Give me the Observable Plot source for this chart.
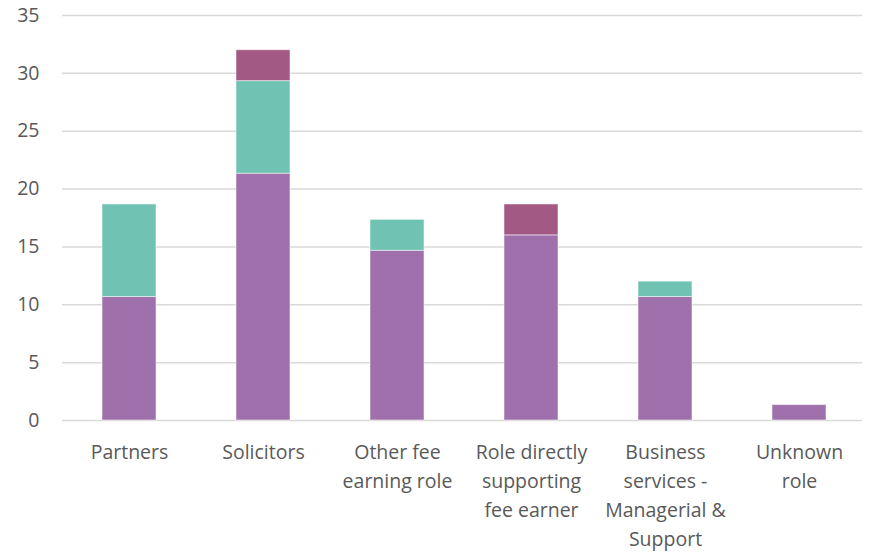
<!DOCTYPE html>
<html>
<head>
<meta charset="utf-8">
<script src="https://cdn.jsdelivr.net/npm/d3@7"></script>
<script src="https://cdn.jsdelivr.net/npm/@observablehq/plot@0.6"></script>
<style>
  html, body { margin: 0; padding: 0; background: #fff; }
  #chart { width: 870px; height: 552px; }
</style>
</head>
<body>
<div id="chart"></div>
<script>
const categories = [
  "Partners",
  "Solicitors",
  "Other fee earning role",
  "Role directly supporting fee earner",
  "Business services - Managerial & Support",
  "Unknown role"
];
const tickLabels = [
  "Partners",
  "Solicitors",
  "Other fee\nearning role",
  "Role directly\nsupporting\nfee earner",
  "Business\nservices -\nManagerial &\nSupport",
  "Unknown\nrole"
];
const seriesNames = ["Series 1", "Series 2", "Series 3"];
const series1 = [10.67, 21.33, 14.67, 16.0, 10.67, 1.33];
const series2 = [8.0, 8.0, 2.67, 0, 1.33, 0];
const series3 = [0, 2.67, 0, 2.67, 0, 0];
const colors = ["#A070AD", "#70C3B3", "#A25A85"];
const yTicks = [0, 5, 10, 15, 20, 25, 30, 35];

const rows = [];
[series1, series2, series3].forEach((vals, si) => {
  vals.forEach((v, ci) => rows.push({category: categories[ci], series: seriesNames[si], value: v}));
});

const font = "'Open Sans', sans-serif";

const chart = Plot.plot({
  width: 870,
  height: 552,
  marginLeft: 62,
  marginRight: 4,
  marginTop: 15,
  marginBottom: 132,
  style: {fontFamily: font, fontSize: "19.5px", color: "#595959", background: "#fff"},
  x: {domain: categories, paddingInner: 0.6, paddingOuter: 0.3, label: null},
  y: {domain: [0, 35], label: null},
  color: {domain: seriesNames, range: colors},
  marks: [
    Plot.ruleY(yTicks, {stroke: "#d9d9d9", strokeWidth: 1.5, insetRight: 4}),
    Plot.barY(rows, Plot.stackY({order: null}, {
      x: "category", y: "value", fill: "series",
      stroke: "#ffffff", strokeOpacity: 0.5, strokeWidth: 1
    })),
    Plot.axisY(yTicks, {tickSize: 0, tickPadding: 23, fontSize: 19.5, fill: "#595959", label: null}),
    Plot.axisX({
      tickSize: 0, tickPadding: 18, fontSize: 19.5, fill: "#595959", lineHeight: 1.49, label: null,
      tickFormat: d => tickLabels[categories.indexOf(d)]
    })
  ]
});
document.getElementById("chart").appendChild(chart);
</script>
</body>
</html>
